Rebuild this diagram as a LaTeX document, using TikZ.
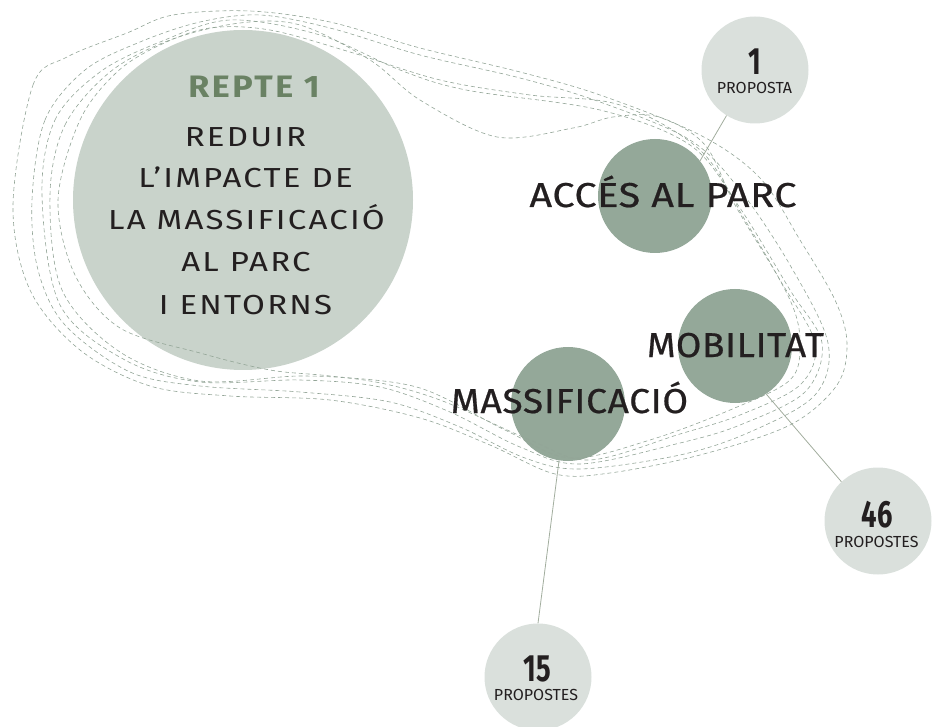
\documentclass[tikz,border=0pt]{standalone}
\usepackage{fontspec}
\usepackage{graphicx}
\setmainfont{Fira Sans}
\newfontfamily\trackfont{Fira Sans}[FakeStretch=1.2, LetterSpace=8]
\newfontfamily\reptefont{Fira Sans}[FakeStretch=1.1, LetterSpace=8]
\newfontfamily\labfont{Fira Sans}[FakeStretch=1.1, LetterSpace=2, FakeBold=0.6]
\definecolor{bigcol}{HTML}{C9D3CB}
\definecolor{midcol}{HTML}{94A899}
\definecolor{numcol}{HTML}{DAE0DC}
\definecolor{conncol}{HTML}{A2AD9E}
\definecolor{dashcol}{HTML}{93A597}
\definecolor{txtcol}{HTML}{231F20}
\definecolor{greencol}{HTML}{6A8264}
\tikzset{
  bigc/.style={circle, fill=bigcol, minimum size=340pt, inner sep=0pt},
  midc/.style={circle, fill=midcol, minimum size=114pt, inner sep=0pt},
  numc/.style={circle, fill=numcol, minimum size=107pt, inner sep=0pt},
  conn/.style={draw=conncol, line width=0.8pt},
  dashloop/.style={draw=dashcol, line width=0.6pt, dash pattern=on 4pt off 3pt},
  bigtxt/.style={anchor=base, inner sep=0pt, text=txtcol, font=\trackfont\fontsize{27.5}{30}\selectfont},
  reptetxt/.style={anchor=base, inner sep=0pt, text=greencol, font=\reptefont\bfseries\fontsize{31}{34}\selectfont},
  midtxt/.style={anchor=base, inner sep=0pt, text=txtcol, font=\labfont\fontsize{34.5}{38}\selectfont},
  numtxt/.style={anchor=base, inner sep=0pt, text depth=0pt, text=txtcol, font=\bfseries\fontsize{38}{40}\selectfont},
  proptxt/.style={anchor=base, inner sep=0pt, text height=11.5pt, text depth=0pt, text=txtcol, font=\fontsize{16}{18}\selectfont},
}
\begin{document}
\begin{tikzpicture}[x=1pt, y=-1pt]
\useasboundingbox (0,0) rectangle (932,727);
% circles
\node[bigc] (rep) at (243,200) {};
\node[numc] (n1) at (755,70) {};
\node[numc] (n46) at (878,521) {};
\node[numc] (n15) at (538,677) {};
\node[midc] (acc) at (655,196) {};
\node[midc] (mob) at (735,346) {};
\node[midc] (mas) at (568,404) {};
% connectors
\draw[conn] (n1.238) -- (acc.38);
\draw[conn] (mob.-57) -- (n46.133.5);
\draw[conn] (mas.-99) -- (n15.90);
% dashed loops
\draw[dashloop] plot[smooth cycle, tension=0.55] coordinates {(13,205) (33,85) (67,57) (127,33) (173,15) (250,11) (330,22) (420,48) (520,72) (600,95) (700,135) (760,178) (800,240) (835,300) (847,343) (837,385) (790,425) (700,455) (610,473) (555,474) (490,445) (420,418) (330,400) (230,396) (150,386) (80,350) (30,290)};
\draw[dashloop] plot[smooth cycle, tension=0.55] coordinates {(32,200) (45,120) (85,70) (140,42) (200,22) (260,15) (330,28) (420,55) (520,78) (600,102) (690,140) (740,190) (790,265) (828,343) (815,395) (750,432) (680,455) (580,469) (525,458) (460,427) (390,402) (300,392) (200,386) (130,372) (65,325) (38,270)};
\draw[dashloop] plot[smooth cycle, tension=0.55] coordinates {(42,195) (55,120) (100,72) (160,42) (230,20) (320,35) (400,70) (466,90) (600,110) (690,145) (738,205) (790,290) (822,343) (805,392) (740,425) (680,443) (580,464) (520,447) (450,412) (380,387) (300,380) (200,382) (125,360) (60,305)};
\draw[dashloop] plot[smooth cycle, tension=0.55] coordinates {(50,195) (65,125) (110,72) (170,40) (240,23) (300,25) (370,60) (420,100) (497,137) (573,128) (613,117) (659,117) (705,145) (735,205) (780,280) (815,343) (800,385) (740,415) (680,434) (590,460) (530,440) (440,400) (370,381) (300,376) (200,381) (120,352) (62,290)};
\draw[dashloop] plot[smooth cycle, tension=0.55] coordinates {(58,200) (80,120) (117,72) (160,45) (210,28) (270,30) (350,52) (440,80) (530,95) (620,105) (700,150) (745,220) (790,300) (800,343) (790,380) (730,410) (650,440) (570,458) (505,430) (420,388) (330,376) (270,370) (200,353) (120,328) (75,275)};
% big circle text
\node[reptetxt] (t0) at (254,98) {REPTE 1};
\node[bigtxt] (t1) at (245.5,147) {REDUIR};
\node[bigtxt] (t2) at (245.5,188) {L’IMPACTE DE};
\node[bigtxt] (t3) at (246.5,230) {LA MASSIFICACIÓ};
\node[bigtxt] (t4) at (246,272) {AL PARC};
\node[bigtxt] (t5) at (245.5,315) {I ENTORNS};
% medium labels
\node[midtxt] (acct) at (663,207) {\scalebox{1.04}[1]{ACCÉS AL PARC}};
\node[midtxt] (mobt) at (735.5,357) {\scalebox{0.97}[1]{MOBILITAT}};
\node[midtxt] (mast) at (569.5,413) {\scalebox{0.98}[1]{MASSIFICACIÓ}};
% numbers
\node[numtxt] (v1) at (755,75) {\scalebox{0.72}[1]{1}};
\node[proptxt] (p1) at (754.5,94) {PROPOSTA};
\node[numtxt] (v46) at (877,527) {\scalebox{0.72}[1]{46}};
\node[proptxt] (p46) at (876.5,547) {PROPOSTES};
\node[numtxt] (v15) at (537.5,681) {\scalebox{0.72}[1]{15}};
\node[proptxt] (p15) at (536,700) {PROPOSTES};
\end{tikzpicture}
\end{document}
